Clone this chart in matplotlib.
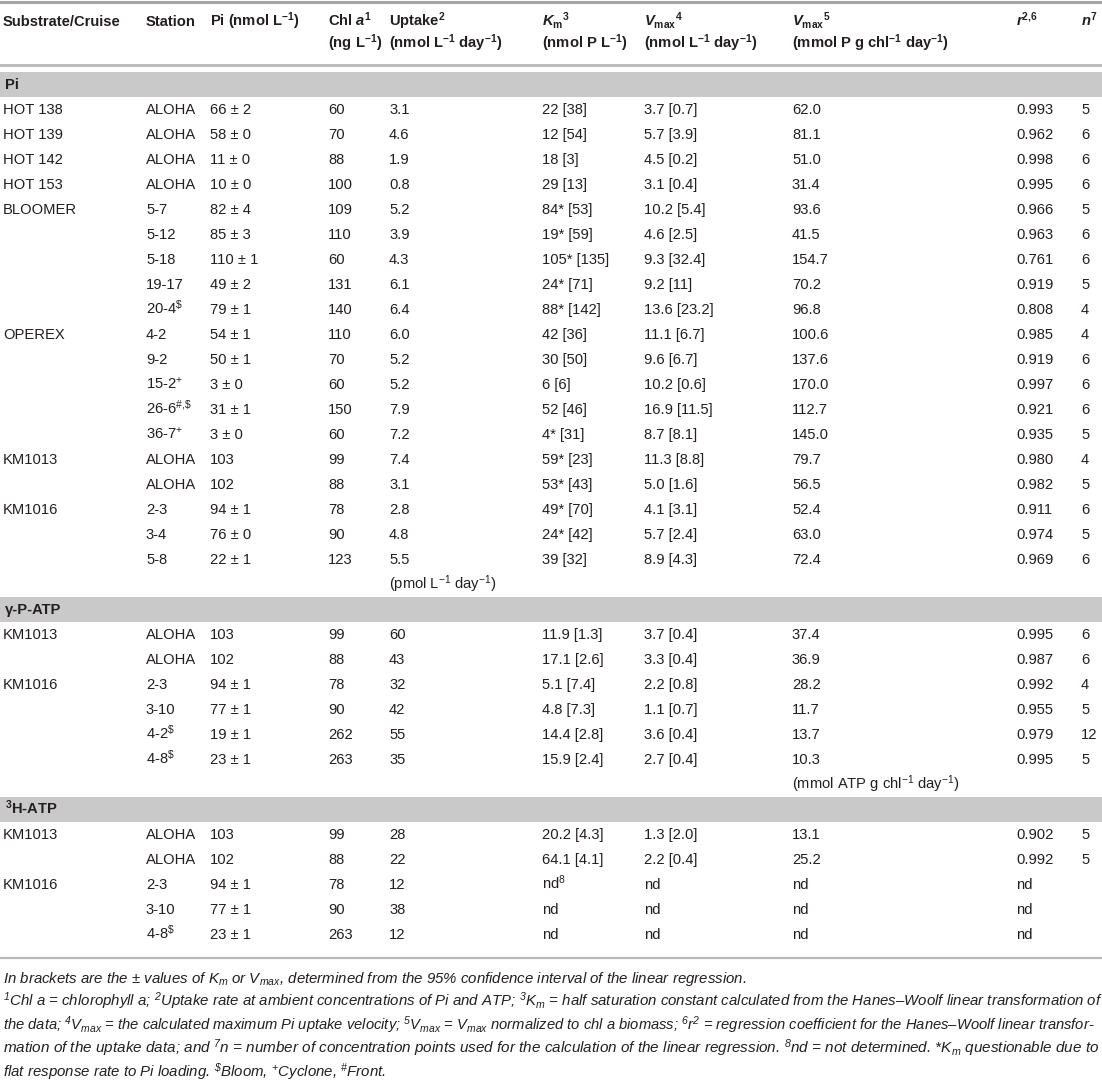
import matplotlib
matplotlib.use('Agg')
import matplotlib.pyplot as plt
from matplotlib import font_manager

plt.rcParams['font.family'] = ['Liberation Sans', 'DejaVu Sans']
plt.rcParams['mathtext.fontset'] = 'custom'
plt.rcParams['mathtext.rm'] = 'Liberation Sans'
plt.rcParams['mathtext.it'] = 'Liberation Sans:italic'
plt.rcParams['mathtext.bf'] = 'Liberation Sans:bold'
plt.rcParams['mathtext.default'] = 'regular'
if 'mathtext.bfit' in plt.rcParams:
    plt.rcParams['mathtext.bfit'] = 'Liberation Sans:italic:bold'
    BFIT = r'\mathbfit'
else:
    BFIT = r'\mathit'

installed = {f.name for f in font_manager.fontManager.ttflist}
foot_family = 'Liberation Sans Narrow' if 'Liberation Sans Narrow' in installed else 'Liberation Sans'

# ---- table content ----
header_top = ['Substrate/Cruise', 'Station', r'Pi (nmol L$^{-1}$)',
              r'Chl $%s{a}^{1}$' % BFIT, r'Uptake$^{2}$',
              r'$%s{K}_{m}{}^{3}$' % BFIT, r'$%s{V}_{max}{}^{4}$' % BFIT,
              r'$%s{V}_{max}{}^{5}$' % BFIT, r'$%s{r}^{2{,}6}$' % BFIT,
              r'$%s{n}^{7}$' % BFIT]
header_sub = ['', '', '', r'(ng L$^{-1}$)', r'(nmol L$^{-1}$ day$^{-1}$)',
              r'(nmol P L$^{-1}$)', r'(nmol L$^{-1}$ day$^{-1}$)',
              r'(mmol P g chl$^{-1}$ day$^{-1}$)', '', '']

sections = ['Pi', 'γ-P-ATP', r'$^{3}$H-ATP']

pi_cruise = ['HOT 138', 'HOT 139', 'HOT 142', 'HOT 153', 'BLOOMER', '', '', '', '',
             'OPEREX', '', '', '', '', 'KM1013', '', 'KM1016', '', '']
pi_station = ['ALOHA', 'ALOHA', 'ALOHA', 'ALOHA', '5-7', '5-12', '5-18', '19-17',
              r'20-4$^{\$}$', '4-2', '9-2', r'15-2$^{+}$', r'26-6$^{\#{,}\$}$',
              r'36-7$^{+}$', 'ALOHA', 'ALOHA', '2-3', '3-4', '5-8']
pi_conc = ['66 ± 2', '58 ± 0', '11 ± 0', '10 ± 0', '82 ± 4', '85 ± 3', '110 ± 1',
           '49 ± 2', '79 ± 1', '54 ± 1', '50 ± 1', '3 ± 0', '31 ± 1', '3 ± 0',
           '103', '102', '94 ± 1', '76 ± 0', '22 ± 1']
pi_chl = ['60', '70', '88', '100', '109', '110', '60', '131', '140', '110', '70',
          '60', '150', '60', '99', '88', '78', '90', '123']
pi_uptake = ['3.1', '4.6', '1.9', '0.8', '5.2', '3.9', '4.3', '6.1', '6.4', '6.0',
             '5.2', '5.2', '7.9', '7.2', '7.4', '3.1', '2.8', '4.8', '5.5']
pi_km = ['22 [38]', '12 [54]', '18 [3]', '29 [13]', '84* [53]', '19* [59]',
         '105* [135]', '24* [71]', '88* [142]', '42 [36]', '30 [50]', '6 [6]',
         '52 [46]', '4* [31]', '59* [23]', '53* [43]', '49* [70]', '24* [42]',
         '39 [32]']
pi_vmax = ['3.7 [0.7]', '5.7 [3.9]', '4.5 [0.2]', '3.1 [0.4]', '10.2 [5.4]',
           '4.6 [2.5]', '9.3 [32.4]', '9.2 [11]', '13.6 [23.2]', '11.1 [6.7]',
           '9.6 [6.7]', '10.2 [0.6]', '16.9 [11.5]', '8.7 [8.1]', '11.3 [8.8]',
           '5.0 [1.6]', '4.1 [3.1]', '5.7 [2.4]', '8.9 [4.3]']
pi_vmax_chl = ['62.0', '81.1', '51.0', '31.4', '93.6', '41.5', '154.7', '70.2',
               '96.8', '100.6', '137.6', '170.0', '112.7', '145.0', '79.7',
               '56.5', '52.4', '63.0', '72.4']
pi_r2 = ['0.993', '0.962', '0.998', '0.995', '0.966', '0.963', '0.761', '0.919',
         '0.808', '0.985', '0.919', '0.997', '0.921', '0.935', '0.980', '0.982',
         '0.911', '0.974', '0.969']
pi_n = ['5', '6', '6', '6', '5', '6', '6', '5', '4', '4', '6', '6', '6', '5', '4',
        '5', '6', '5', '6']
pi_unit = r'(pmol L$^{-1}$ day$^{-1}$)'

gp_cruise = ['KM1013', '', 'KM1016', '', '', '']
gp_station = ['ALOHA', 'ALOHA', '2-3', '3-10', r'4-2$^{\$}$', r'4-8$^{\$}$']
gp_conc = ['103', '102', '94 ± 1', '77 ± 1', '19 ± 1', '23 ± 1']
gp_chl = ['99', '88', '78', '90', '262', '263']
gp_uptake = ['60', '43', '32', '42', '55', '35']
gp_km = ['11.9 [1.3]', '17.1 [2.6]', '5.1 [7.4]', '4.8 [7.3]', '14.4 [2.8]',
         '15.9 [2.4]']
gp_vmax = ['3.7 [0.4]', '3.3 [0.4]', '2.2 [0.8]', '1.1 [0.7]', '3.6 [0.4]',
           '2.7 [0.4]']
gp_vmax_chl = ['37.4', '36.9', '28.2', '11.7', '13.7', '10.3']
gp_r2 = ['0.995', '0.987', '0.992', '0.955', '0.979', '0.995']
gp_n = ['6', '6', '4', '5', '12', '5']
gp_unit = r'(mmol ATP g chl$^{-1}$ day$^{-1}$)'

h3_cruise = ['KM1013', '', 'KM1016', '', '']
h3_station = ['ALOHA', 'ALOHA', '2-3', '3-10', r'4-8$^{\$}$']
h3_conc = ['103', '102', '94 ± 1', '77 ± 1', '23 ± 1']
h3_chl = ['99', '88', '78', '90', '263']
h3_uptake = ['28', '22', '12', '38', '12']
h3_km = ['20.2 [4.3]', '64.1 [4.1]', r'nd$^{8}$', 'nd', 'nd']
h3_vmax = ['1.3 [2.0]', '2.2 [0.4]', 'nd', 'nd', 'nd']
h3_vmax_chl = ['13.1', '25.2', 'nd', 'nd', 'nd']
h3_r2 = ['0.902', '0.992', 'nd', 'nd', 'nd']
h3_n = ['5', '5', '', '', '']

footnotes = [
    r'In brackets are the ± values of $K_{m}$ or $V_{max}$, determined from the 95% confidence interval of the linear regression.',
    r'$^{1}$Chl a = chlorophyll a; $^{2}$Uptake rate at ambient concentrations of Pi and ATP; $^{3}K_{m}$ = half saturation constant calculated from the Hanes–Woolf linear transformation of',
    r'the data; $^{4}V_{max}$ = the calculated maximum Pi uptake velocity; $^{5}V_{max}$ = $V_{max}$ normalized to chl a biomass; $^{6}r^{2}$ = regression coefficient for the Hanes–Woolf linear transfor-',
    r'mation of the uptake data; and $^{7}n$ = number of concentration points used for the calculation of the linear regression. $^{8}$nd = not determined. *$K_{m}$ questionable due to',
    r'flat response rate to Pi loading. $^{\$}$Bloom, $^{+}$Cyclone, $^{\#}$Front.',
]

blocks = [
    (sections[0], [pi_cruise, pi_station, pi_conc, pi_chl, pi_uptake, pi_km,
                   pi_vmax, pi_vmax_chl, pi_r2, pi_n], (4, pi_unit)),
    (sections[1], [gp_cruise, gp_station, gp_conc, gp_chl, gp_uptake, gp_km,
                   gp_vmax, gp_vmax_chl, gp_r2, gp_n], (7, gp_unit)),
    (sections[2], [h3_cruise, h3_station, h3_conc, h3_chl, h3_uptake, h3_km,
                   h3_vmax, h3_vmax_chl, h3_r2, h3_n], None),
]

# ---- layout ----
W, H = 1102, 1081
col_x = [3, 146, 210, 328, 389, 542, 644, 792, 1016, 1081]
row_h = 25
first_band = 84
txt_col = '#231f20'
band_col = '#c9c9c9'
fs = 10.6

fig = plt.figure(figsize=(W / 100, H / 100), dpi=100)
ax = fig.add_axes([0, 0, 1, 1])
ax.set_xlim(0, W)
ax.set_ylim(H, 0)
ax.axis('off')


def cell(x, y, s, **kw):
    kw.setdefault('fontsize', fs)
    kw.setdefault('color', txt_col)
    ax.text(x, y + 5, s, ha='left', va='baseline', **kw)


# rules
ax.axhline(1.5, color='#a6a6a6', lw=2.2)
ax.axhline(65, color='#bdbdbd', lw=2.2)

for x, top, sub in zip(col_x, header_top, header_sub):
    cell(x, 21, top, fontweight='bold')
    if sub:
        cell(x, 43, sub, fontweight='bold')

y = first_band
for name, cols, unit in blocks:
    ax.axhspan(y - 12.5, y + 12.5, color=band_col, lw=0, zorder=0)
    cell(col_x[0] + 2, y, name, fontweight='bold')
    y += row_h
    for i in range(len(cols[0])):
        for x, col in zip(col_x, cols):
            if col[i]:
                cell(x, y, col[i])
        y += row_h
    if unit is not None:
        cell(col_x[unit[0]], y, unit[1])
        y += row_h

last_row = y - row_h
ax.axhline(last_row + 24, color='#b8b8b8', lw=1.6)

# footnotes, justified lines fitted to the full width
renderer = fig.canvas.get_renderer()
fy0, fdy = last_row + 44, 23.3
target = 1097
sizes = []
texts = []
for j, s in enumerate(footnotes):
    t = ax.text(3, fy0 + j * fdy + 5, s, ha='left', va='baseline',
                fontsize=9, fontstyle='italic', family=foot_family,
                color=txt_col)
    texts.append(t)
for j in (1, 2, 3):
    w = texts[j].get_window_extent(renderer).width
    texts[j].set_fontsize(9 * target / w)
    sizes.append(9 * target / w)
for j in (0, 4):
    texts[j].set_fontsize(sum(sizes) / len(sizes))

fig.savefig('out.png', dpi=100)
